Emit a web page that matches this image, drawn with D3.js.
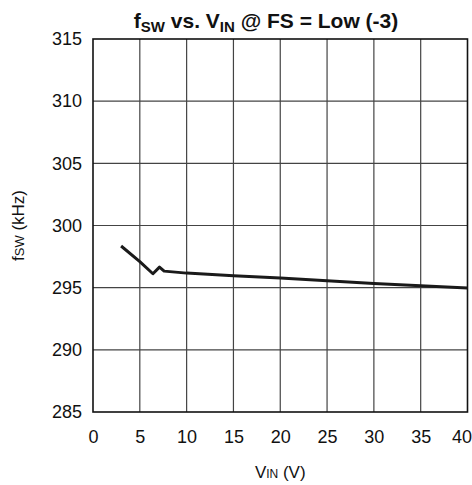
<!DOCTYPE html>
<html>
<head>
<meta charset="utf-8">
<script src="https://cdn.jsdelivr.net/npm/d3@7"></script>
<style>
  body { margin: 0; background: #fff; }
  svg { font-family: 'Liberation Sans', Arial, sans-serif; }
</style>
</head>
<body>
<div id="chart"></div>
<script>
const vin = [3, 5, 6.4, 7.1, 7.6, 10, 15, 20, 25, 30, 35, 40]
const fsw = [298.35, 297.1, 296.12, 296.65, 296.33, 296.17, 295.96, 295.77, 295.55, 295.34, 295.15, 294.98]
const xTicks = [0, 5, 10, 15, 20, 25, 30, 35, 40]
const yTicks = [285, 290, 295, 300, 305, 310, 315]

const width = 472
const height = 485
const margin = { top: 39, right: 4.5, bottom: 73, left: 93 }

const x = d3.scaleLinear()
  .domain([0, 40])
  .range([margin.left, width - margin.right])

const y = d3.scaleLinear()
  .domain([285, 315])
  .range([height - margin.bottom, margin.top])

const svg = d3.select('#chart').append('svg')
  .attr('width', width)
  .attr('height', height)

// grid
svg.append('g')
  .selectAll('line')
  .data(xTicks.slice(1, -1)).enter()
  .append('line')
  .attr('x1', d => x(d)).attr('x2', d => x(d))
  .attr('y1', y(315)).attr('y2', y(285))
  .attr('stroke', '#444')
  .attr('stroke-width', 1.2)

svg.append('g')
  .selectAll('line')
  .data(yTicks.slice(1, -1)).enter()
  .append('line')
  .attr('x1', x(0)).attr('x2', x(40))
  .attr('y1', d => y(d)).attr('y2', d => y(d))
  .attr('stroke', '#444')
  .attr('stroke-width', 1.2)

// frame
svg.append('rect')
  .attr('x', x(0))
  .attr('y', y(315))
  .attr('width', x(40) - x(0))
  .attr('height', y(285) - y(315))
  .attr('fill', 'none')
  .attr('stroke', '#111')
  .attr('stroke-width', 1.6)

const xAxis = g => g
  .attr('transform', `translate(0, ${y(285)})`)
  .call(d3.axisBottom(x).tickValues(xTicks).tickSize(0).tickPadding(18))
  .call(g => g.select('.domain').remove())
  .call(g => g.selectAll('text')
    .attr('font-size', 18)
    .attr('font-family', 'Liberation Sans, Arial, sans-serif')
    .attr('fill', '#111'))
  // last label sits against the right edge, as in the original
  .call(g => g.select('.tick:last-of-type text')
    .attr('text-anchor', 'end')
    .attr('dx', 4))

const yAxis = g => g
  .attr('transform', `translate(${x(0)},0)`)
  .call(d3.axisLeft(y).tickValues(yTicks).tickSize(0).tickPadding(11))
  .call(g => g.select('.domain').remove())
  .call(g => g.selectAll('text')
    .attr('font-size', 18)
    .attr('font-family', 'Liberation Sans, Arial, sans-serif')
    .attr('fill', '#111'))

svg.append('g').call(xAxis)
svg.append('g').call(yAxis)

// curve
const line = d3.line()
  .x((d, i) => x(vin[i]))
  .y(d => y(d))

svg.append('path')
  .datum(fsw)
  .attr('d', line)
  .attr('fill', 'none')
  .attr('stroke', '#1a1a1a')
  .attr('stroke-width', 3)
  .attr('stroke-linejoin', 'round')

// title
const title = svg.append('text')
  .attr('x', 266)
  .attr('y', 28)
  .attr('text-anchor', 'middle')
  .attr('font-size', 21)
  .attr('font-weight', 'bold')
  .attr('fill', '#111')
title.append('tspan').text('f')
title.append('tspan').attr('font-size', 15).attr('dy', 4).text('SW')
title.append('tspan').attr('dy', -4).text(' vs. V')
title.append('tspan').attr('font-size', 15).attr('dy', 4).text('IN')
title.append('tspan').attr('dy', -4).text(' @ FS = Low (-3)')

// x label
const xl = svg.append('text')
  .attr('x', x(20))
  .attr('y', 478)
  .attr('text-anchor', 'middle')
  .attr('font-size', 17)
  .attr('fill', '#111')
xl.append('tspan').text('V')
xl.append('tspan').attr('font-size', 12).text('IN')
xl.append('tspan').text(' (V)')

// y label
const yl = svg.append('text')
  .attr('transform', `translate(24, ${(y(285) + y(315)) / 2}) rotate(-90)`)
  .attr('text-anchor', 'middle')
  .attr('font-size', 17)
  .attr('fill', '#111')
yl.append('tspan').text('f')
yl.append('tspan').attr('font-size', 13).text('SW')
yl.append('tspan').text(' (kHz)')
</script>
</body>
</html>
